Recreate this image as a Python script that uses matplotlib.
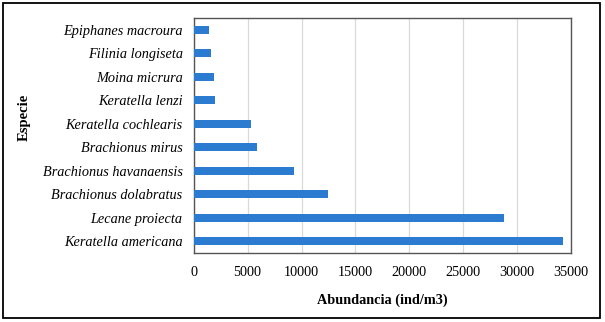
import matplotlib.pyplot as plt
from matplotlib.patches import Rectangle

# Species (bottom to top) and abundance values
especies = ['Keratella americana', 'Lecane proiecta', 'Brachionus dolabratus',
            'Brachionus havanaensis', 'Brachionus mirus', 'Keratella cochlearis',
            'Keratella lenzi', 'Moina micrura', 'Filinia longiseta',
            'Epiphanes macroura']
abundancia = [34300, 28800, 12450, 9300, 5870, 5310, 1950, 1880, 1600, 1450]
xticks = [0, 5000, 10000, 15000, 20000, 25000, 30000, 35000]

plt.rcParams['font.family'] = ['Liberation Serif', 'DejaVu Serif']

fig = plt.figure(figsize=(6.05, 3.22), dpi=100)
ax = fig.add_axes([193.7 / 605, 1 - 253 / 322, (571 - 193.7) / 605, (253 - 18) / 322])

ax.barh(especies, abundancia, height=0.34, color='#2b7cd0', zorder=3)

ax.set_xlim(0, 35000)
ax.set_ylim(-0.5, len(especies) - 0.5)
ax.set_xticks(xticks)
ax.set_xticklabels([str(t) for t in xticks], fontsize=10.3)
ax.tick_params(axis='x', length=0, pad=9)
ax.tick_params(axis='y', length=0, pad=8)
for lbl in ax.get_yticklabels():
    lbl.set_fontstyle('italic')
    lbl.set_fontsize(10.3)
ax.grid(axis='x', color='#d9d9d9', linewidth=0.9, zorder=0)

for s in ax.spines.values():
    s.set_color('#555555')
    s.set_linewidth(1.0)

ax.set_xlabel('Abundancia (ind/m3)', fontweight='bold', fontsize=10.3, labelpad=11)
fig.text(24 / 605, 1 - 117 / 322, 'Especie', rotation=90, fontweight='bold',
         fontsize=10.5, ha='center', va='center')

# outer frame
fig.patches.append(Rectangle((3 / 605, 4 / 322), 597 / 605, 315 / 322,
                             transform=fig.transFigure, fill=False,
                             edgecolor='black', linewidth=1.3))

fig.savefig('out.png', dpi=100)
